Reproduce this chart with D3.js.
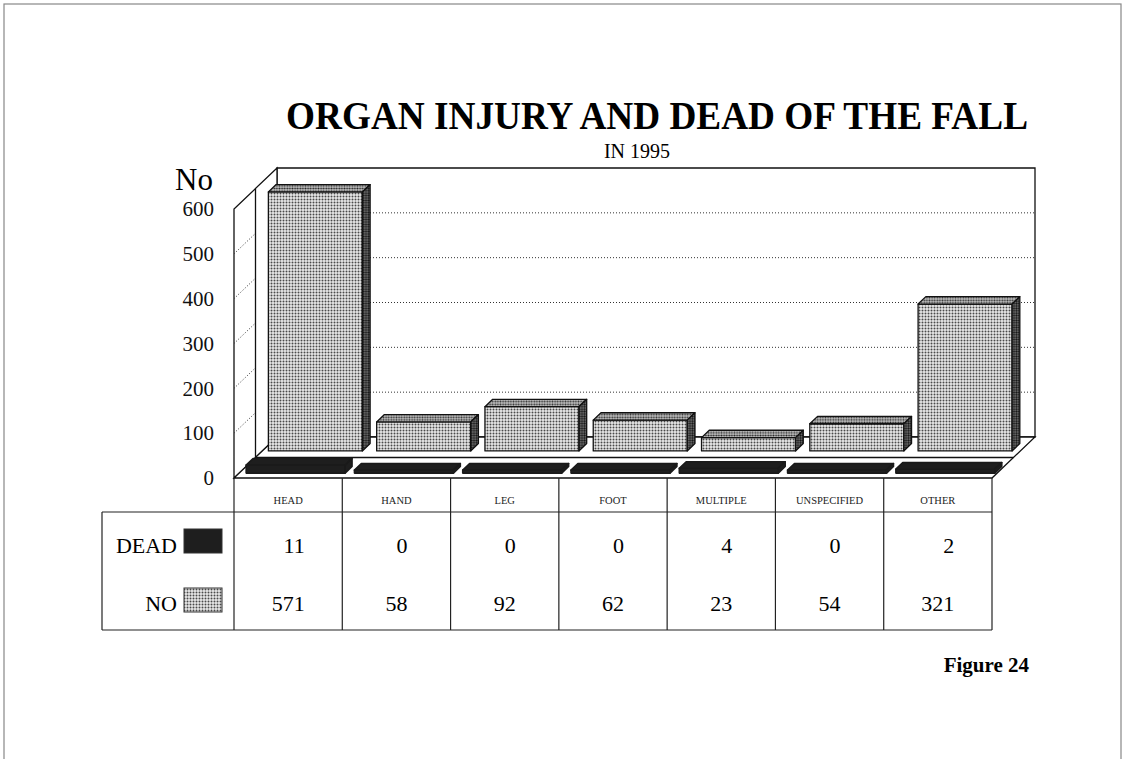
<!DOCTYPE html>
<html lang="en">
<head>
<meta charset="UTF-8">
<title>Organ Injury and Dead of the Fall</title>
<style>
  body { margin: 0; background: #fff; }
  svg { display: block; font-family: "Liberation Serif", "Times New Roman", serif; }
</style>
</head>
<body>
<svg id="chart" width="1125" height="759"></svg>
<script src="https://d3js.org/d3.v7.min.js"></script>
<script>
const categories = ["HEAD", "HAND", "LEG", "FOOT", "MULTIPLE", "UNSPECIFIED", "OTHER"];
const deadValues = [11, 0, 0, 0, 4, 0, 2];
const noValues = [571, 58, 92, 62, 23, 54, 321];
const yTicks = [0, 100, 200, 300, 400, 500, 600];
const gridTicks = [100, 200, 300, 400, 500];

const svg = d3.select("#chart");

// front plane of the 3D box and the depth vector
const x0 = 234, x1 = 992, floorY = 478;
const depthX = 43, depthY = 41;
const x = d3.scaleBand().domain(categories).range([x0, x1]);
const h = d3.scaleLinear().domain([0, 600]).range([0, 269]);
const yFront = d3.scaleLinear().domain([0, 600]).range([floorY, floorY - 269]);

function P(px, d, ht) { return [px + depthX * d, floorY - depthY * d - ht]; }
const poly = pts => "M" + pts.map(p => p.join(",")).join("L") + "Z";

// dot textures
const defs = svg.append("defs");
function dots(id, bg, dot, size, r) {
  const p = defs.append("pattern").attr("id", id).attr("patternUnits", "userSpaceOnUse")
    .attr("width", size).attr("height", size);
  p.append("rect").attr("width", size).attr("height", size).attr("fill", bg);
  p.append("circle").attr("cx", size / 2).attr("cy", size / 2).attr("r", r).attr("fill", dot);
}
dots("dotFront", "#e9e9e9", "#4a4a4a", 3, 1.0);
dots("dotTop", "#c4c4c4", "#2a2a2a", 2.6, 0.95);
dots("dotSide", "#7a7a7a", "#111", 2.4, 0.95);

// page frame
svg.append("rect").attr("x", 4).attr("y", 4).attr("width", 1117).attr("height", 770)
  .attr("fill", "none").attr("stroke", "#888").attr("stroke-width", 1.2);

// titles
svg.append("text").attr("x", 657).attr("y", 129).attr("text-anchor", "middle")
  .attr("font-size", 40).attr("font-weight", "bold")
  .attr("textLength", 742).attr("lengthAdjust", "spacingAndGlyphs")
  .text("ORGAN INJURY AND DEAD OF THE FALL");
svg.append("text").attr("x", 637).attr("y", 158).attr("text-anchor", "middle")
  .attr("font-size", 20).text("IN 1995");

const box = svg.append("g").attr("stroke", "#111").attr("stroke-width", 1.3).attr("fill", "#fff");
const top600 = h(600);

// back wall, side wall and floor
box.append("path").attr("d", poly([P(x0, 1, 0), P(x1, 1, 0), P(x1, 1, top600), P(x0, 1, top600)]));
box.append("path").attr("d", poly([P(x0, 0, 0), P(x0, 1, 0), P(x0, 1, top600), P(x0, 0, top600)]));
box.append("path").attr("d", poly([P(x0, 0, 0), P(x1, 0, 0), P(x1, 1, 0), P(x0, 1, 0)]));
box.append("line").attr("x1", P(x0, .5, 0)[0]).attr("y1", P(x0, .5, 0)[1])
  .attr("x2", P(x0, .5, top600)[0]).attr("y2", P(x0, .5, top600)[1]);
box.append("line").attr("x1", P(x0, .5, 0)[0]).attr("y1", P(x0, .5, 0)[1])
  .attr("x2", P(x1, .5, 0)[0]).attr("y2", P(x1, .5, 0)[1]);

// dotted gridlines
const grid = svg.append("g").attr("stroke", "#333").attr("stroke-width", 1).attr("stroke-dasharray", "1,2");
grid.selectAll("line.back").data(gridTicks).join("line").attr("class", "back")
  .attr("x1", d => P(x0, 1, h(d))[0]).attr("y1", d => P(x0, 1, h(d))[1])
  .attr("x2", d => P(x1, 1, h(d))[0]).attr("y2", d => P(x1, 1, h(d))[1]);
grid.selectAll("line.side").data(gridTicks).join("line").attr("class", "side")
  .attr("x1", d => P(x0, 0, h(d))[0]).attr("y1", d => P(x0, 0, h(d))[1])
  .attr("x2", d => P(x0, .5, h(d))[0]).attr("y2", d => P(x0, .5, h(d))[1]);

// 3D bar: front, top and right faces
function bar3d(g, px, w, d1, d2, ht, fills) {
  g.append("path").attr("fill", fills[0])
    .attr("d", poly([P(px, d1, 0), P(px + w, d1, 0), P(px + w, d1, ht), P(px, d1, ht)]));
  g.append("path").attr("fill", fills[1])
    .attr("d", poly([P(px, d1, ht), P(px + w, d1, ht), P(px + w, d2, ht), P(px, d2, ht)]));
  g.append("path").attr("fill", fills[2])
    .attr("d", poly([P(px + w, d1, 0), P(px + w, d2, 0), P(px + w, d2, ht), P(px + w, d1, ht)]));
}

const noG = svg.append("g").attr("stroke", "#111").attr("stroke-width", 1.3).attr("stroke-linejoin", "round");
categories.forEach((c, i) => {
  bar3d(noG, x(c) + 6, 94, 0.66, 0.84, 3 + h(noValues[i]),
    ["url(#dotFront)", "url(#dotTop)", "url(#dotSide)"]);
});
const deadG = svg.append("g").attr("stroke", "#1a1a1a").attr("stroke-width", 1.6).attr("stroke-linejoin", "round");
categories.forEach((c, i) => {
  bar3d(deadG, x(c) + 7, 99, 0.12, 0.28, 3 + h(deadValues[i]), ["#1e1e1e", "#1e1e1e", "#1e1e1e"]);
});

// value axis on the front plane
const axis = svg.append("g").attr("transform", `translate(${x0},0)`)
  .call(d3.axisLeft(yFront).tickValues(yTicks).tickSize(0).tickPadding(20));
axis.select(".domain").remove();
axis.selectAll("text").attr("font-family", "Liberation Serif, serif").attr("font-size", 21).attr("fill", "#111");
svg.append("text").attr("x", 213).attr("y", 190).attr("text-anchor", "end")
  .attr("font-size", 31).text("No");

// data table
const tableTop = floorY, labelBottom = 512, tableBottom = 630, tableLeft = 102;
const t = svg.append("g").attr("stroke", "#222").attr("stroke-width", 1.2);
categories.concat([null]).forEach(c => {
  const xx = c ? x(c) : x1;
  t.append("line").attr("x1", xx).attr("x2", xx).attr("y1", tableTop).attr("y2", tableBottom);
});
t.append("line").attr("x1", tableLeft).attr("x2", x1).attr("y1", labelBottom).attr("y2", labelBottom);
t.append("line").attr("x1", tableLeft).attr("x2", x1).attr("y1", tableBottom).attr("y2", tableBottom);
t.append("line").attr("x1", tableLeft).attr("x2", tableLeft).attr("y1", labelBottom).attr("y2", tableBottom);

svg.append("g").selectAll("text").data(categories).join("text")
  .attr("x", d => x(d) + x.bandwidth() / 2).attr("y", 504)
  .attr("text-anchor", "middle").attr("font-size", 10.5).attr("fill", "#222").text(d => d);

const rows = [
  { name: "DEAD", values: deadValues, y: 553, fill: "#1e1e1e", swY: 529 },
  { name: "NO", values: noValues, y: 611, fill: "url(#dotFront)", swY: 588 }
];
rows.forEach(r => {
  svg.append("text").attr("x", 177).attr("y", r.y).attr("text-anchor", "end")
    .attr("font-size", 22).text(r.name);
  svg.append("rect").attr("x", 184).attr("y", r.swY).attr("width", 38).attr("height", 24)
    .attr("fill", r.fill).attr("stroke", "#333").attr("stroke-width", 1);
});
categories.forEach((c, i) => {
  const len = Math.max(String(deadValues[i]).length, String(noValues[i]).length);
  const right = x(c) + x.bandwidth() / 2 + len * 5.5;
  rows.forEach(r => {
    svg.append("text").attr("x", right).attr("y", r.y).attr("text-anchor", "end")
      .attr("font-size", 22).text(r.values[i]);
  });
});

svg.append("text").attr("x", 1029).attr("y", 672).attr("text-anchor", "end")
  .attr("font-size", 21).attr("font-weight", "bold").text("Figure 24");
</script>
</body>
</html>
